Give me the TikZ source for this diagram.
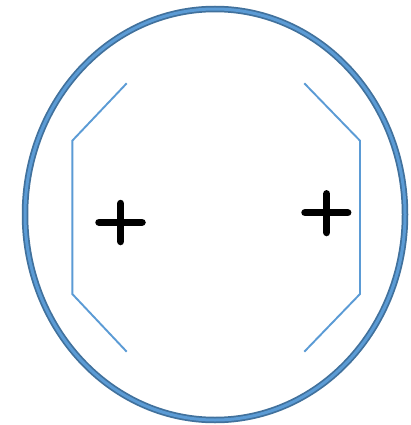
\documentclass[tikz,border=0pt]{standalone}
\begin{document}
\begin{tikzpicture}[x=1pt,y=-1pt,
  rimdark/.style={draw={rgb,255:red,65;green,113;blue,156},line width=6.5pt},
  rimlight/.style={draw={rgb,255:red,91;green,155;blue,213},line width=3pt},
  bracket/.style={draw={rgb,255:red,91;green,155;blue,213},line width=1.9pt},
  plusmark/.style={draw=black,line width=7.5pt,line cap=round}]
\useasboundingbox (0,0) rectangle (410,425);
\fill[white] (0,0) rectangle (410,425);
% outer ring
\draw[rimdark] (215,214.5) ellipse [x radius=190, y radius=205.5];
\draw[rimlight] (215,214.5) ellipse [x radius=190, y radius=205.5];
% brackets
\coordinate (l1) at (126.7,83.3);
\coordinate (l2) at (72.3,140.7);
\coordinate (l3) at (72.3,294);
\coordinate (l4) at (126.7,351.7);
\coordinate (r1) at (304.3,83.3);
\coordinate (r2) at (360,140.7);
\coordinate (r3) at (360,294);
\coordinate (r4) at (304.3,351.7);
\draw[bracket] (l1) -- (l2) -- (l3) -- (l4);
\draw[bracket] (r1) -- (r2) -- (r3) -- (r4);
% plus signs
\draw[plusmark] (99,222.3) -- (142,222.3) (120.7,203.5) -- (120.7,241.5);
\draw[plusmark] (305,212.7) -- (347.7,212.7) (326.7,193.8) -- (326.7,232.5);
\end{tikzpicture}
\end{document}
